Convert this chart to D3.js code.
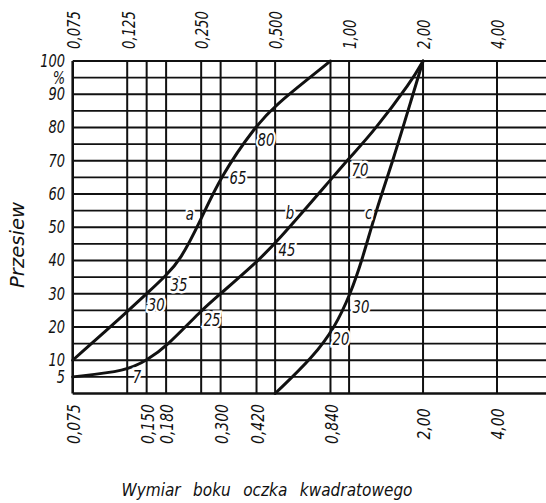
<!DOCTYPE html>
<html lang="pl">
<head>
<meta charset="UTF-8">
<title>Przesiew</title>
<script src="https://cdn.jsdelivr.net/npm/d3@7"></script>
<style>
  body { margin: 0; background: #fff; }
  svg text { font-family: "Liberation Sans Narrow", "DejaVu Sans Condensed", sans-serif; font-style: italic; fill: #111; }
</style>
</head>
<body>
<svg id="chart" width="546" height="503"></svg>
<script>
// grid lines (sieve sizes, mm) and percentages
const gridSizes = [0.075, 0.125, 0.15, 0.18, 0.25, 0.3, 0.42, 0.5, 0.84, 1.0, 2.0, 4.0];
const gridPct = [5, 10, 15, 20, 25, 30, 35, 40, 45, 50, 55, 60, 65, 70, 75, 80, 85, 90, 95, 100];

const topTicks = [0.075, 0.125, 0.25, 0.5, 1.0, 2.0, 4.0];
const topLabels = ["0,075", "0,125", "0,250", "0,500", "1,00", "2,00", "4,00"];
const bottomTicks = [0.075, 0.15, 0.18, 0.3, 0.42, 0.84, 2.0, 4.0];
const bottomLabels = ["0,075", "0,150", "0,180", "0,300", "0,420", "0,840", "2,00", "4,00"];
const yTicks = [100, 95, 90, 80, 70, 60, 50, 40, 30, 20, 10, 5];
const yLabels = ["100", "%", "90", "80", "70", "60", "50", "40", "30", "20", "10", "5"];

// curves: [size, percent passing]
const curveA = [[0.075, 10], [0.125, 24.6], [0.15, 30], [0.18, 35.5], [0.205, 40], [0.247, 51.5], [0.298, 65], [0.421, 81], [0.508, 87], [0.672, 94.3], [0.84, 100]];
const curveB = [[0.075, 5], [0.125, 6.8], [0.15, 10], [0.18, 14], [0.25, 25], [0.3, 30], [0.42, 39.5], [0.5, 45], [0.84, 64.2], [1.0, 70.8], [1.25, 78.5], [1.8, 94], [2.0, 100]];
const curveC = [[0.5, 0], [0.715, 11], [0.877, 20], [1.013, 30], [1.129, 40], [1.287, 55], [1.509, 70], [1.82, 90], [2.0, 100]];

// point labels on the curves: [text, size, percent]
const curveLabels = [
  ["a", 0.225, 54.1], ["b", 0.575, 54.4], ["c", 1.2, 54.4],
  ["7", 0.137, 5.2], ["30", 0.164, 26.8], ["35", 0.203, 32.8], ["65", 0.353, 64.9], ["80", 0.459, 76.3],
  ["25", 0.277, 22.3], ["45", 0.559, 43.3], ["70", 1.108, 67.3],
  ["20", 0.927, 16.6], ["30", 1.118, 26.2]
];

const svg = d3.select("#chart");
const W = 546;
const narrow = 0.82;   // squeeze the glyphs like the drafting lettering

const x = d3.scaleLog().domain([0.075, 4]).range([72.7, 497]);
const y = d3.scaleLinear().domain([0, 100]).range([393.5, 61]);

const ink = "#111";

// horizontal grid
svg.append("g").selectAll("line")
  .data(gridPct)
  .enter().append("line")
  .attr("x1", x(0.075)).attr("x2", W)
  .attr("y1", d => y(d)).attr("y2", d => y(d))
  .attr("stroke", ink)
  .attr("stroke-width", d => d % 10 === 0 ? 2.2 : 1.8);

// bottom border
svg.append("line")
  .attr("x1", x(0.075)).attr("x2", W)
  .attr("y1", y(0)).attr("y2", y(0))
  .attr("stroke", ink).attr("stroke-width", 2.6);

// vertical grid
svg.append("g").selectAll("line")
  .data(gridSizes)
  .enter().append("line")
  .attr("x1", d => x(d)).attr("x2", d => x(d))
  .attr("y1", y(100)).attr("y2", y(0))
  .attr("stroke", ink)
  .attr("stroke-width", (d, i) => i === 0 ? 2.6 : 2);

// curves
const line = d3.line()
  .x(d => x(d[0]))
  .y(d => y(d[1]))
  .curve(d3.curveBasis);

svg.append("g").selectAll("path")
  .data([curveA, curveB, curveC])
  .enter().append("path")
  .attr("d", line)
  .attr("fill", "none")
  .attr("stroke", ink)
  .attr("stroke-width", 3)
  .attr("stroke-linecap", "round");

// labels on the curves, white halo breaks the grid lines
svg.append("g").selectAll("text")
  .data(curveLabels)
  .enter().append("text")
  .attr("transform", d => `translate(${x(d[1])},${y(d[2])}) scale(${narrow},1)`)
  .attr("dy", "0.35em")
  .attr("text-anchor", "middle")
  .attr("font-size", 18)
  .attr("stroke", "#fff")
  .attr("stroke-width", 5)
  .attr("paint-order", "stroke")
  .text(d => d[0]);

// top axis labels
svg.append("g").selectAll("text")
  .data(topTicks)
  .enter().append("text")
  .attr("transform", d => `translate(${x(d) + 1},49) rotate(-90) scale(${narrow},1)`)
  .attr("dy", "0.35em")
  .attr("font-size", 18)
  .text((d, i) => topLabels[i]);

// bottom axis labels
svg.append("g").selectAll("text")
  .data(bottomTicks)
  .enter().append("text")
  .attr("transform", d => `translate(${x(d) + 1},424) rotate(-90) scale(0.86,1)`)
  .attr("dy", "0.35em")
  .attr("text-anchor", "middle")
  .attr("font-size", 18)
  .text((d, i) => bottomLabels[i]);

// left axis labels
svg.append("g").selectAll("text")
  .data(yTicks)
  .enter().append("text")
  .attr("transform", d => `translate(65,${y(d)}) scale(0.85,1)`)
  .attr("dy", "0.35em")
  .attr("text-anchor", "end")
  .attr("font-size", 17)
  .text((d, i) => yLabels[i]);

// axis titles
svg.append("text")
  .attr("transform", "translate(17,245) rotate(-90)")
  .attr("dy", "0.35em")
  .attr("text-anchor", "middle")
  .attr("font-size", 19)
  .attr("textLength", 86)
  .attr("lengthAdjust", "spacingAndGlyphs")
  .text("Przesiew");

svg.append("text")
  .attr("x", 267)
  .attr("y", 496)
  .attr("text-anchor", "middle")
  .attr("font-size", 18)
  .attr("textLength", 291)
  .attr("lengthAdjust", "spacingAndGlyphs")
  .attr("word-spacing", 8)
  .text("Wymiar boku oczka kwadratowego");
</script>
</body>
</html>
